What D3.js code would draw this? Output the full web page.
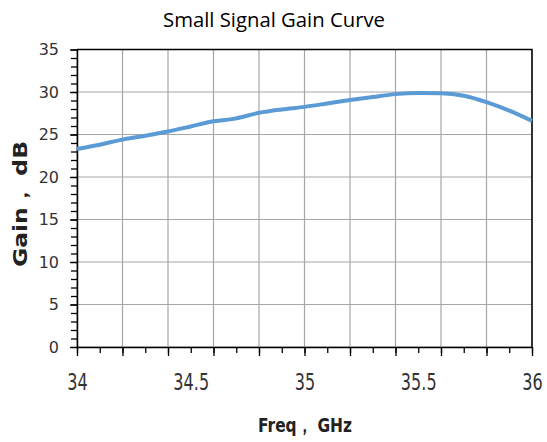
<!DOCTYPE html>
<html>
<head>
<meta charset="utf-8">
<script src="https://cdn.jsdelivr.net/npm/d3@7"></script>
<style>
  body { margin: 0; background: #fff; }
  .tick text { font-family: "DejaVu Sans", sans-serif; font-size: 16px; fill: #333; }
  .xlab .tick text { font-size: 23px; }
  .lbl { font-family: "DejaVu Sans", sans-serif; font-weight: bold; fill: #222; }
</style>
</head>
<body>
<div id="chart"></div>
<script>
  // frequency points, GHz
  var freq = [34.0, 34.1, 34.2, 34.3, 34.4, 34.5, 34.6, 34.7, 34.8, 34.9, 35.0,
    35.1, 35.2, 35.3, 35.4, 35.5, 35.6, 35.7, 35.8, 35.9, 36.0]
  // small signal gain, dB
  var gain = [23.3, 23.8, 24.4, 24.85, 25.35, 25.95, 26.55, 26.9, 27.55, 27.95, 28.25,
    28.65, 29.05, 29.4, 29.75, 29.88, 29.85, 29.55, 28.8, 27.8, 26.6]

  var xLabels = [34, 34.5, 35, 35.5, 36]
  var yLabels = [0, 5, 10, 15, 20, 25, 30, 35]

  var width = 547,
    height = 442,
    margin = { top: 49.5, right: 15, bottom: 95, left: 77 }

  var svg = d3.select("#chart").append("svg")
    .attr("width", width)
    .attr("height", height)

  var x = d3.scaleLinear().domain([34, 36]).range([margin.left, width - margin.right])
  var y = d3.scaleLinear().domain([0, 35]).range([height - margin.bottom, margin.top])

  // grid lines: vertical every 0.2 GHz, horizontal every 5 dB
  var xGrid = d3.range(34, 36.001, 0.2)
  svg.append("g").selectAll("line")
    .data(xGrid).enter().append("line")
    .attr("x1", function(d) { return x(d) }).attr("x2", function(d) { return x(d) })
    .attr("y1", y(0)).attr("y2", y(35))
    .attr("stroke", "#a6a6a6").attr("stroke-width", 1.2)

  svg.append("g").selectAll("line")
    .data(yLabels).enter().append("line")
    .attr("x1", x(34)).attr("x2", x(36))
    .attr("y1", function(d) { return y(d) }).attr("y2", function(d) { return y(d) })
    .attr("stroke", "#a6a6a6").attr("stroke-width", 1.2)

  // frame: top and right edges
  svg.append("path")
    .attr("d", "M" + x(34) + "," + y(35) + "H" + x(36) + "V" + y(0))
    .attr("fill", "none").attr("stroke", "#000").attr("stroke-width", 1.5)

  // minor ticks
  svg.append("g")
    .attr("transform", "translate(0," + y(0) + ")")
    .call(d3.axisBottom(x).tickValues(d3.range(34, 36.001, 0.1)).tickSize(6).tickFormat(""))
    .call(function(g) { g.select(".domain").remove() })
  svg.append("g")
    .attr("transform", "translate(" + x(34) + ",0)")
    .call(d3.axisLeft(y).tickValues(d3.range(0, 35.001, 1)).tickSize(6).tickFormat(""))
    .call(function(g) { g.select(".domain").remove() })

  // major ticks at the grid lines
  svg.append("g")
    .attr("transform", "translate(0," + y(0) + ")")
    .call(d3.axisBottom(x).tickValues(xGrid).tickSize(9).tickSizeOuter(0).tickFormat(""))

  // x labels (narrow and tall, like the original)
  var xAxis = svg.append("g")
    .attr("class", "xlab")
    .attr("transform", "translate(0," + y(0) + ")")
    .call(d3.axisBottom(x).tickValues(xLabels).tickSize(0).tickFormat(d3.format("")))
    .call(function(g) { g.select(".domain").remove() })
  xAxis.selectAll(".tick text")
    .attr("y", 43).attr("dy", 0)
    .attr("transform", "scale(0.7,1)")

  var yAxis = svg.append("g")
    .attr("transform", "translate(" + x(34) + ",0)")
    .call(d3.axisLeft(y).tickValues(yLabels).tickSize(7).tickSizeOuter(0).tickPadding(11))

  svg.selectAll(".domain").attr("stroke", "#000").attr("stroke-width", 1.5)
  svg.selectAll(".tick line").attr("stroke", "#000").attr("stroke-width", 1.3)

  // gain curve
  var line = d3.line()
    .x(function(d, i) { return x(freq[i]) })
    .y(function(d) { return y(d) })
    .curve(d3.curveMonotoneX)

  svg.append("path")
    .datum(gain)
    .attr("d", line)
    .attr("fill", "none")
    .attr("stroke", "#5b9bd5")
    .attr("stroke-width", 4)

  // title and axis titles
  svg.append("text")
    .attr("x", 274).attr("y", 27)
    .attr("text-anchor", "middle")
    .attr("textLength", 222).attr("lengthAdjust", "spacingAndGlyphs")
    .style("font-family", "'Open Sans', 'Noto Sans', sans-serif")
    .style("font-size", "20px")
    .style("fill", "#000")
    .text("Small Signal Gain Curve")

  svg.append("text")
    .attr("class", "lbl")
    .attr("x", 305).attr("y", 432)
    .attr("text-anchor", "middle")
    .attr("textLength", 94).attr("lengthAdjust", "spacingAndGlyphs")
    .style("font-size", "20px")
    .text("Freq， GHz")

  svg.append("text")
    .attr("class", "lbl")
    .attr("transform", "translate(27,204) rotate(-90)")
    .attr("text-anchor", "middle")
    .attr("textLength", 126).attr("lengthAdjust", "spacingAndGlyphs")
    .style("font-size", "19px")
    .text("Gain， dB")
</script>
</body>
</html>
